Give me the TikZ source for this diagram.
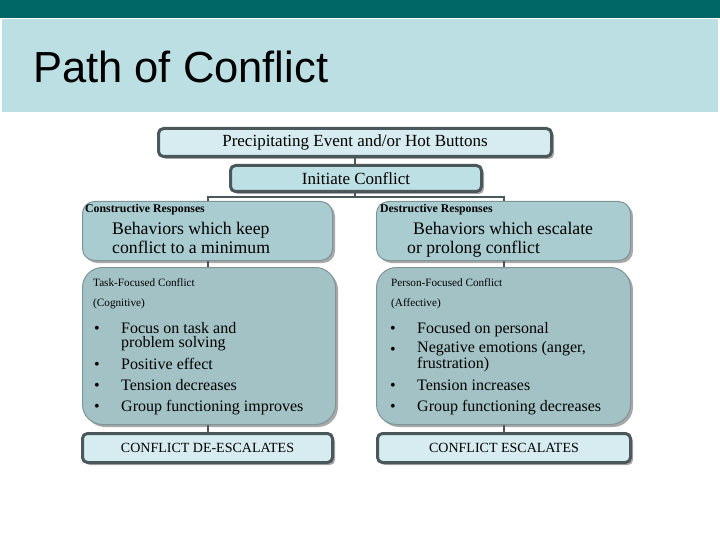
\documentclass[tikz,border=0pt]{standalone}
\usepackage{fontspec}
\setmainfont{Liberation Serif}
\newfontfamily\arialf{Liberation Sans}
\usetikzlibrary{shadows}
\definecolor{topteal}{HTML}{006666}
\definecolor{bandc}{HTML}{BBDFE3}
\definecolor{bordc}{HTML}{4A585B}
\definecolor{palefill}{HTML}{D6ECF0}
\definecolor{initfill}{HTML}{BDE0E4}
\definecolor{respfill}{HTML}{A9CCD1}
\definecolor{taskfill}{HTML}{A3C2C5}
\definecolor{thinbord}{HTML}{7E9497}
\definecolor{shadowc}{HTML}{A8A8A8}
\tikzset{
  darkbox/.style={draw=bordc, line width=3pt, rounded corners=5pt, inner sep=0pt,
    general shadow={fill=shadowc, shadow xshift=2.5pt, shadow yshift=-2.5pt}},
  softbox/.style={draw=thinbord, line width=1pt, inner sep=0pt,
    general shadow={fill=shadowc, shadow xshift=2.5pt, shadow yshift=-2.5pt}},
  txt/.style={inner sep=0pt, anchor=base west},
  link/.style={draw=bordc, line width=2pt},
  hdfont/.style={font=\fontsize{17}{20}\selectfont},
  tagfont/.style={font=\bfseries\fontsize{11.8}{13}\selectfont},
  bigfont/.style={font=\fontsize{17.7}{18}\selectfont},
  smallfont/.style={font=\fontsize{11.2}{13}\selectfont},
  itemfont/.style={font=\fontsize{16}{14.5}\selectfont},
  capfont/.style={font=\fontsize{14}{16}\selectfont},
}
\begin{document}
\begin{tikzpicture}[x=1pt,y=-1pt]
\useasboundingbox (0,0) rectangle (720,540);
\fill[topteal] (0,0) rectangle (720,18);
\fill[bandc] (2,19) rectangle (718,112);
\node[txt, font=\arialf\fontsize{43.5}{50}\selectfont] (title) at (33,83) {Path of Conflict};

% boxes
\node[darkbox, fill=palefill, minimum width=393pt, minimum height=28pt, hdfont] (prec) at (355,142.5) {Precipitating Event and/or Hot Buttons};
\node[darkbox, fill=initfill, minimum width=251pt, minimum height=26pt, hdfont] (init) at (356,178.5) {Initiate Conflict};

\node[softbox, fill=respfill, rounded corners=12pt, minimum width=250pt, minimum height=59pt] (respL) at (207.5,231) {};
\node[softbox, fill=respfill, rounded corners=12pt, minimum width=254pt, minimum height=59pt] (respR) at (503.5,231) {};

\node[softbox, fill=taskfill, rounded corners=20pt, minimum width=253pt, minimum height=157pt] (taskL) at (209,346) {};
\node[softbox, fill=taskfill, rounded corners=20pt, minimum width=254pt, minimum height=157pt] (taskR) at (503.5,346) {};

\node[darkbox, fill=palefill, minimum width=250pt, minimum height=29pt, capfont] (endL) at (207.5,448) {CONFLICT DE-ESCALATES};
\node[darkbox, fill=palefill, minimum width=253pt, minimum height=29pt, capfont] (endR) at (504,448) {CONFLICT ESCALATES};

% connectors
\coordinate (br) at (355,197.5);
\draw[link] (prec.south) -- (prec.south |- init.north);
\draw[link] (init.south -| br) -- (br);
\draw[link] (respL.north) |- (br) -| (respR.north);
\draw[link] (respL.south) -- (respL.south |- taskL.north);
\draw[link] (respR.south) -- (respR.south |- taskR.north);
\draw[link] (respL.south |- taskL.south) -- (respL.south |- endL.north);
\draw[link] (respR.south |- taskR.south) -- (respR.south |- endR.north);

% response texts
\node[txt, tagfont] (tagL) at (85,213) {Constructive Responses};
\node[txt, bigfont, align=left] (bL) at (112,253) {Behaviors which keep\\conflict to a minimum};
\node[txt, tagfont] (tagR) at (380,213) {Destructive Responses};
\node[txt, bigfont, align=left] (bR) at (407,253) {\hspace*{6pt}Behaviors which escalate\\or prolong conflict};

% task texts
\node[txt, smallfont] (tL1) at (93,286) {Task-Focused Conflict};
\node[txt, smallfont] (tL2) at (93,306) {(Cognitive)};
\foreach \y/\n in {333/a,369/b,390/c,411/d}{
  \node[inner sep=0pt, anchor=base, itemfont] (dotL\n) at (97,\y) {\textbullet};
}
\node[txt, itemfont, align=left] (iL1) at (121,347.5) {Focus on task and\\problem solving};
\node[txt, itemfont] (iL2) at (121,369) {Positive effect};
\node[txt, itemfont] (iL3) at (121,390) {Tension decreases};
\node[txt, itemfont] (iL4) at (121,411) {Group functioning improves};

\node[txt, smallfont] (tR1) at (391,286) {Person-Focused Conflict};
\node[txt, smallfont] (tR2) at (391,306) {(Affective)};
\foreach \y/\n in {333/a,354/b,390/c,411/d}{
  \node[inner sep=0pt, anchor=base, itemfont] (dotR\n) at (393,\y) {\textbullet};
}
\node[txt, itemfont] (iR1) at (417,333) {Focused on personal};
\node[txt, itemfont, align=left] (iR2) at (417,368.5) {Negative emotions (anger,\\frustration)};
\node[txt, itemfont] (iR3) at (417,390) {Tension increases};
\node[txt, itemfont] (iR4) at (417,411) {Group functioning decreases};
\end{tikzpicture}
\end{document}
